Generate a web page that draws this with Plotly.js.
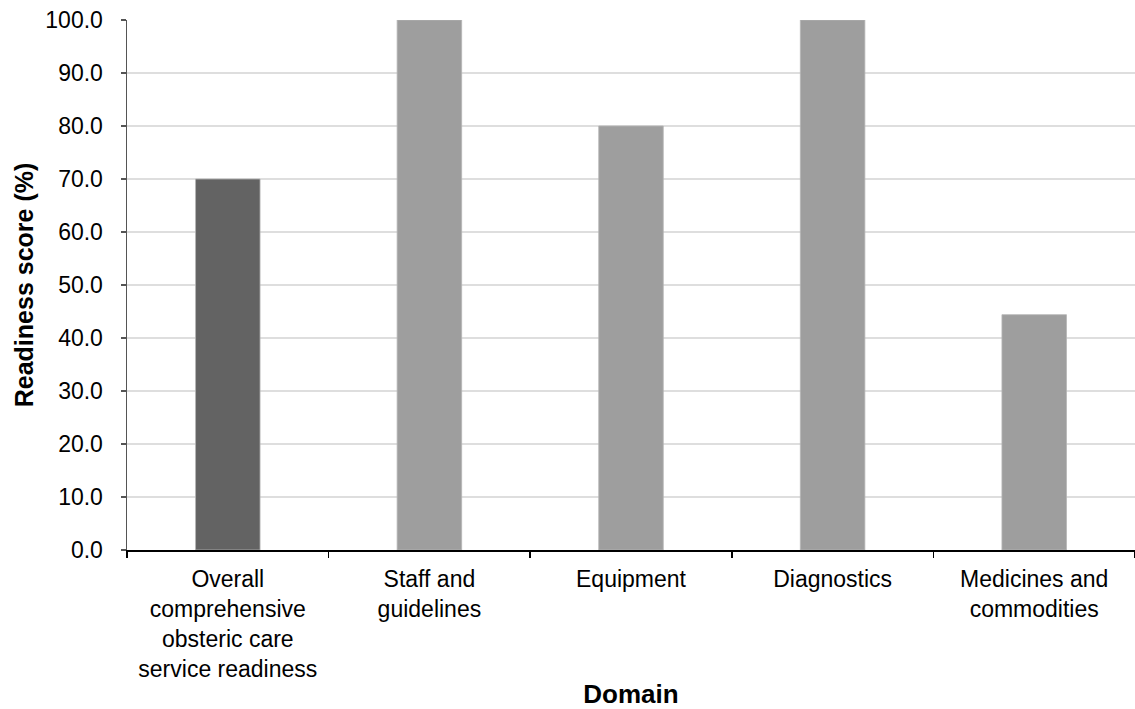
<!DOCTYPE html>
<html>
<head>
<meta charset="utf-8">
<script src="https://cdn.plot.ly/plotly-3.0.1.min.js"></script>
<style>html,body{margin:0;padding:0;background:#fff;}#chart{width:1135px;height:709px;}</style>
</head>
<body>
<div id="chart"></div>
<script>
const categories = [
  "Overall<br>comprehensive<br>obsteric care<br>service readiness",
  "Staff and<br>guidelines",
  "Equipment",
  "Diagnostics",
  "Medicines and<br>commodities"
];
const scores = [70.0, 100.0, 80.0, 100.0, 44.4];
const barColors = ["#636363", "#9e9e9e", "#9e9e9e", "#9e9e9e", "#9e9e9e"];
const yTicks = [0, 10, 20, 30, 40, 50, 60, 70, 80, 90, 100];

const font = "Liberation Sans, Arial, sans-serif";
Plotly.newPlot("chart", [{
  type: "bar",
  x: categories,
  y: scores,
  marker: {color: barColors, line: {color: "#b5b5b5", width: 0.8}},
  hoverinfo: "x+y"
}], {
  width: 1135, height: 709,
  margin: {l: 127, r: 0, t: 20, b: 159},
  paper_bgcolor: "#fff", plot_bgcolor: "#fff",
  bargap: 0.68,
  showlegend: false,
  font: {family: font, color: "#000", size: 23},
  xaxis: {
    type: "category",
    tickson: "boundaries",
    ticks: "outside", ticklen: 6, tickcolor: "#000", tickwidth: 1.5,
    showline: true, linecolor: "#000", linewidth: 1.5,
    showgrid: false,
    tickfont: {family: font, size: 23, color: "#000"},
    ticklabelstandoff: 8,
    automargin: false,
    title: {text: "<b>Domain</b>", font: {family: font, size: 26, color: "#000"}, standoff: 20}
  },
  yaxis: {
    range: [0, 100],
    tickvals: yTicks,
    tickformat: ".1f",
    ticks: "outside", ticklen: 5, tickcolor: "#555", tickwidth: 1.5,
    showline: true, linecolor: "#555", linewidth: 1.5,
    showgrid: true, gridcolor: "#dedede", gridwidth: 1.5,
    zeroline: false,
    tickfont: {family: font, size: 23, color: "#000"},
    ticklabelstandoff: 13,
    automargin: false,
    title: {text: "<b>Readiness score (%)</b>", font: {family: font, size: 25, color: "#000"}, standoff: 4}
  }
}, {displayModeBar: false, staticPlot: true});
</script>
</body>
</html>
